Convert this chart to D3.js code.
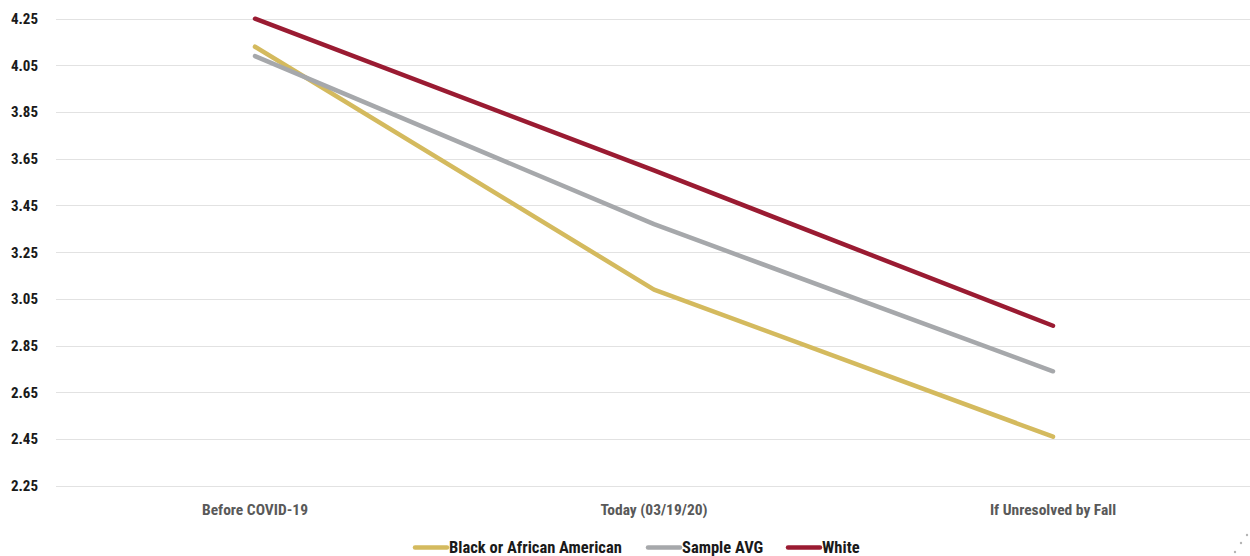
<!DOCTYPE html>
<html>
<head>
<meta charset="utf-8">
<script src="https://cdn.jsdelivr.net/npm/d3@7"></script>
<style>
  html, body { margin: 0; padding: 0; background: #fff; }
  svg text { font-family: "Liberation Sans Narrow", "Roboto Condensed", "Roboto", sans-serif; font-weight: bold; }
</style>
</head>
<body>
<svg id="chart" width="1250" height="556"></svg>
<script>
// Categories along the x axis
const categories = ["Before COVID-19", "Today (03/19/20)", "If Unresolved by Fall"];

// Series values, one per category
const blackValues = [4.13, 3.09, 2.46];
const sampleAvgValues = [4.09, 3.37, 2.74];
const whiteValues = [4.25, 3.60, 2.935];

// Y axis tick labels
const yTicks = [2.25, 2.45, 2.65, 2.85, 3.05, 3.25, 3.45, 3.65, 3.85, 4.05, 4.25];

const seriesNames = ["Black or African American", "Sample AVG", "White"];
const seriesColors = ["#D4BA5E", "#A6A8AB", "#9A1B32"];
const seriesValues = [blackValues, sampleAvgValues, whiteValues];

const svg = d3.select("#chart");

const x = d3.scaleBand().domain(categories).range([55.5, 1252.5]);
const y = d3.scaleLinear().domain([2.25, 4.25]).range([485.7, 18.7]);

// Horizontal gridlines
svg.append("g")
  .selectAll("line")
  .data(yTicks)
  .join("line")
  .attr("x1", 56).attr("x2", 1252)
  .attr("y1", d => Math.round(y(d)) + 0.5)
  .attr("y2", d => Math.round(y(d)) + 0.5)
  .attr("stroke", "#E2E2E2")
  .attr("stroke-width", 1);

// Y axis labels
const yAxis = d3.axisLeft(y).tickValues(yTicks).tickFormat(d3.format(".2f")).tickSize(0).tickPadding(0);
const yg = svg.append("g").attr("transform", "translate(38,0)").call(yAxis);
yg.select(".domain").remove();
yg.selectAll("text")
  .attr("font-size", 15)
  .attr("fill", "#1a1a1a")
  .attr("font-family", null);

// X axis labels
const xAxis = d3.axisBottom(x).tickSize(0).tickPadding(0);
const xg = svg.append("g").attr("transform", "translate(0,504)").call(xAxis);
xg.select(".domain").remove();
xg.selectAll("text")
  .attr("font-size", 15.5)
  .attr("fill", "#595959")
  .attr("font-family", null);

// Series lines
const line = d3.line()
  .x((d, i) => x(categories[i]) + x.bandwidth() / 2)
  .y(d => y(d));

svg.append("g")
  .selectAll("path")
  .data(seriesValues)
  .join("path")
  .attr("d", d => line(d))
  .attr("fill", "none")
  .attr("stroke", (d, i) => seriesColors[i])
  .attr("stroke-width", 4.5)
  .attr("stroke-linecap", "round")
  .attr("stroke-linejoin", "round");

// Legend
const legendItems = [
  { x: 415, name: seriesNames[0], color: seriesColors[0] },
  { x: 648, name: seriesNames[1], color: seriesColors[1] },
  { x: 788, name: seriesNames[2], color: seriesColors[2] }
];
const lg = svg.append("g");
const li = lg.selectAll("g").data(legendItems).join("g")
  .attr("transform", d => `translate(${d.x},547.5)`);
li.append("line")
  .attr("x1", 0).attr("x2", 32).attr("y1", 0).attr("y2", 0)
  .attr("stroke", d => d.color).attr("stroke-width", 4.5)
  .attr("stroke-linecap", "round");
li.append("text")
  .attr("x", 34).attr("y", 5)
  .attr("font-size", 16.5).attr("fill", "#1a1a1a")
  .text(d => d.name);

// Resize grip dots in the lower right corner
svg.append("g").selectAll("circle")
  .data([[1247, 535], [1241, 543], [1235, 552]])
  .join("circle")
  .attr("cx", d => d[0]).attr("cy", d => d[1]).attr("r", 1.2)
  .attr("fill", "#B5B5B5");
</script>
</body>
</html>
